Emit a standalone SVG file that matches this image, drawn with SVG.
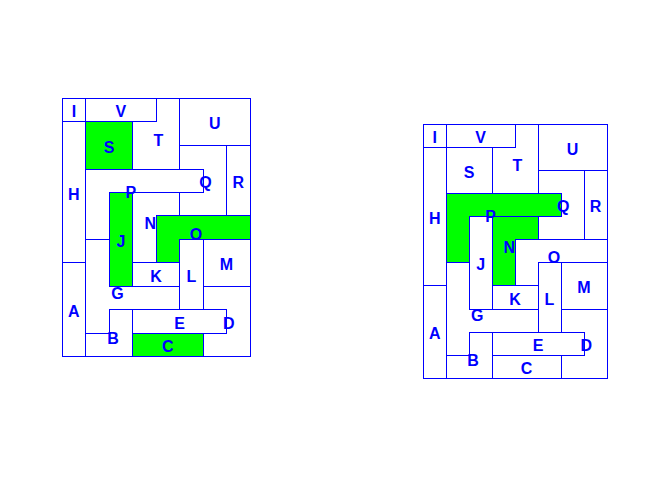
<svg xmlns="http://www.w3.org/2000/svg" width="672" height="480" viewBox="0 0 672 480">
<style>
.pc{fill:none;stroke:#0000FF;stroke-width:1;shape-rendering:crispEdges}
.gr{fill:#00FF00}
.lb{font-family:"Liberation Sans",Arial,Helvetica,sans-serif;font-weight:bold;font-size:16px;fill:#0000FF;text-anchor:middle}
</style>
<rect x="0" y="0" width="672" height="480" fill="#FFFFFF"/>
<g id="left-panel">
<g id="L-A"><polygon class="pc" points="62.5,262.5 85.5,262.5 85.5,356.5 62.5,356.5"/><text class="lb" x="73.9" y="316.9">A</text></g>
<g id="L-B"><polygon class="pc" points="109.5,309.5 132.5,309.5 132.5,356.5 85.5,356.5 85.5,333.5 109.5,333.5"/><text class="lb" x="113.1" y="344.3">B</text></g>
<g id="L-C"><polygon class="pc gr" points="132.5,333.5 203.5,333.5 203.5,356.5 132.5,356.5"/><text class="lb" x="167.8" y="352.1">C</text></g>
<g id="L-D"><polygon class="pc" points="203.5,286.5 250.5,286.5 250.5,356.5 203.5,356.5 203.5,333.5 226.5,333.5 226.5,309.5 203.5,309.5"/><text class="lb" x="228.8" y="328.7">D</text></g>
<g id="L-E"><polygon class="pc" points="132.5,309.5 226.5,309.5 226.5,333.5 132.5,333.5"/><text class="lb" x="179.6" y="328.7">E</text></g>
<g id="L-G"><polygon class="pc" points="85.5,239.5 109.5,239.5 109.5,286.5 179.5,286.5 179.5,309.5 109.5,309.5 109.5,333.5 85.5,333.5"/><text class="lb" x="117.5" y="298.5">G</text></g>
<g id="L-H"><polygon class="pc" points="62.5,121.5 85.5,121.5 85.5,262.5 62.5,262.5"/><text class="lb" x="73.9" y="199.6">H</text></g>
<g id="L-I"><polygon class="pc" points="62.5,98.5 85.5,98.5 85.5,121.5 62.5,121.5"/><text class="lb" x="73.9" y="117.4">I</text></g>
<g id="L-J"><polygon class="pc gr" points="109.5,192.5 132.5,192.5 132.5,286.5 109.5,286.5"/><text class="lb" x="120.9" y="246.5">J</text></g>
<g id="L-K"><polygon class="pc" points="132.5,262.5 179.5,262.5 179.5,286.5 132.5,286.5"/><text class="lb" x="156.1" y="281.7">K</text></g>
<g id="L-L"><polygon class="pc" points="179.5,239.5 203.5,239.5 203.5,309.5 179.5,309.5"/><text class="lb" x="191.3" y="281.7">L</text></g>
<g id="L-M"><polygon class="pc" points="203.5,239.5 250.5,239.5 250.5,286.5 203.5,286.5"/><text class="lb" x="226.5" y="270.0">M</text></g>
<g id="L-N"><polygon class="pc" points="132.5,192.5 179.5,192.5 179.5,215.5 156.5,215.5 156.5,262.5 132.5,262.5"/><text class="lb" x="150.2" y="228.9">N</text></g>
<g id="L-O"><polygon class="pc gr" points="156.5,215.5 250.5,215.5 250.5,239.5 179.5,239.5 179.5,262.5 156.5,262.5"/><text class="lb" x="196.0" y="239.5">O</text></g>
<g id="L-P"><polygon class="pc" points="85.5,169.5 203.5,169.5 203.5,192.5 109.5,192.5 109.5,239.5 85.5,239.5"/><text class="lb" x="130.9" y="197.9">P</text></g>
<g id="L-Q"><polygon class="pc" points="179.5,145.5 226.5,145.5 226.5,215.5 179.5,215.5 179.5,192.5 203.5,192.5 203.5,169.5 179.5,169.5"/><text class="lb" x="205.4" y="187.8">Q</text></g>
<g id="L-R"><polygon class="pc" points="226.5,145.5 250.5,145.5 250.5,215.5 226.5,215.5"/><text class="lb" x="238.2" y="187.8">R</text></g>
<g id="L-S"><polygon class="pc gr" points="85.5,121.5 132.5,121.5 132.5,169.5 85.5,169.5"/><text class="lb" x="109.1" y="152.6">S</text></g>
<g id="L-T"><polygon class="pc" points="156.5,98.5 179.5,98.5 179.5,169.5 132.5,169.5 132.5,121.5 156.5,121.5"/><text class="lb" x="158.4" y="145.6">T</text></g>
<g id="L-U"><polygon class="pc" points="179.5,98.5 250.5,98.5 250.5,145.5 179.5,145.5"/><text class="lb" x="214.8" y="129.2">U</text></g>
<g id="L-V"><polygon class="pc" points="85.5,98.5 156.5,98.5 156.5,121.5 85.5,121.5"/><text class="lb" x="120.9" y="117.4">V</text></g>
</g>
<g id="right-panel">
<g id="R-A"><polygon class="pc" points="423.5,285.5 446.5,285.5 446.5,378.5 423.5,378.5"/><text class="lb" x="434.7" y="339.3">A</text></g>
<g id="R-B"><polygon class="pc" points="469.5,332.5 492.5,332.5 492.5,378.5 446.5,378.5 446.5,355.5 469.5,355.5"/><text class="lb" x="473.0" y="366.3">B</text></g>
<g id="R-C"><polygon class="pc" points="492.5,355.5 561.5,355.5 561.5,378.5 492.5,378.5"/><text class="lb" x="526.6" y="373.9">C</text></g>
<g id="R-D"><polygon class="pc" points="561.5,309.5 607.5,309.5 607.5,378.5 561.5,378.5 561.5,355.5 584.5,355.5 584.5,332.5 561.5,332.5"/><text class="lb" x="586.3" y="350.9">D</text></g>
<g id="R-E"><polygon class="pc" points="492.5,332.5 584.5,332.5 584.5,355.5 492.5,355.5"/><text class="lb" x="538.1" y="350.9">E</text></g>
<g id="R-G"><polygon class="pc" points="446.5,262.5 469.5,262.5 469.5,309.5 538.5,309.5 538.5,332.5 469.5,332.5 469.5,355.5 446.5,355.5"/><text class="lb" x="477.3" y="321.2">G</text></g>
<g id="R-H"><polygon class="pc" points="423.5,147.5 446.5,147.5 446.5,285.5 423.5,285.5"/><text class="lb" x="434.7" y="223.9">H</text></g>
<g id="R-I"><polygon class="pc" points="423.5,124.5 446.5,124.5 446.5,147.5 423.5,147.5"/><text class="lb" x="434.7" y="143.0">I</text></g>
<g id="R-J"><polygon class="pc" points="469.5,216.5 492.5,216.5 492.5,309.5 469.5,309.5"/><text class="lb" x="480.6" y="270.0">J</text></g>
<g id="R-K"><polygon class="pc" points="492.5,285.5 538.5,285.5 538.5,309.5 492.5,309.5"/><text class="lb" x="515.1" y="304.7">K</text></g>
<g id="R-L"><polygon class="pc" points="538.5,262.5 561.5,262.5 561.5,332.5 538.5,332.5"/><text class="lb" x="549.5" y="304.7">L</text></g>
<g id="R-M"><polygon class="pc" points="561.5,262.5 607.5,262.5 607.5,309.5 561.5,309.5"/><text class="lb" x="584.0" y="293.1">M</text></g>
<g id="R-N"><polygon class="pc gr" points="492.5,216.5 538.5,216.5 538.5,239.5 515.5,239.5 515.5,285.5 492.5,285.5"/><text class="lb" x="509.3" y="252.7">N</text></g>
<g id="R-O"><polygon class="pc" points="515.5,239.5 607.5,239.5 607.5,262.5 538.5,262.5 538.5,285.5 515.5,285.5"/><text class="lb" x="554.1" y="263.1">O</text></g>
<g id="R-P"><polygon class="pc gr" points="446.5,193.5 561.5,193.5 561.5,216.5 469.5,216.5 469.5,262.5 446.5,262.5"/><text class="lb" x="490.5" y="222.2">P</text></g>
<g id="R-Q"><polygon class="pc" points="538.5,170.5 584.5,170.5 584.5,239.5 538.5,239.5 538.5,216.5 561.5,216.5 561.5,193.5 538.5,193.5"/><text class="lb" x="563.3" y="212.3">Q</text></g>
<g id="R-R"><polygon class="pc" points="584.5,170.5 607.5,170.5 607.5,239.5 584.5,239.5"/><text class="lb" x="595.5" y="212.3">R</text></g>
<g id="R-S"><polygon class="pc" points="446.5,147.5 492.5,147.5 492.5,193.5 446.5,193.5"/><text class="lb" x="469.1" y="177.7">S</text></g>
<g id="R-T"><polygon class="pc" points="515.5,124.5 538.5,124.5 538.5,193.5 492.5,193.5 492.5,147.5 515.5,147.5"/><text class="lb" x="517.4" y="170.8">T</text></g>
<g id="R-U"><polygon class="pc" points="538.5,124.5 607.5,124.5 607.5,170.5 538.5,170.5"/><text class="lb" x="572.5" y="154.6">U</text></g>
<g id="R-V"><polygon class="pc" points="446.5,124.5 515.5,124.5 515.5,147.5 446.5,147.5"/><text class="lb" x="480.6" y="143.0">V</text></g>
</g>
</svg>
